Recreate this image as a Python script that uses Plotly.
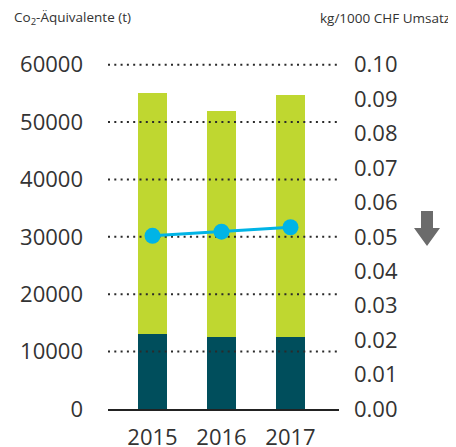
import plotly.graph_objects as go

# ---- data ----
years = [2015, 2016, 2017]
co2_base = [13000, 12500, 12500]          # dark teal part (t)
co2_rest = [42000, 39500, 42200]          # green part (t)
intensity = [0.0503, 0.0515, 0.0528]      # kg / 1000 CHF Umsatz
left_ticks = [0, 10000, 20000, 30000, 40000, 50000, 60000]
right_ticks = [0.00, 0.01, 0.02, 0.03, 0.04, 0.05, 0.06, 0.07, 0.08, 0.09, 0.10]
grid_values = [10000, 20000, 30000, 40000, 50000, 60000]

# ---- layout geometry (page body has an 8px margin) ----
OFF = 8
W, H = 456 - OFF, 447 - OFF
ML, MR, MT, MB = 108 - OFF, 117, 59 - OFF, 38
PW, PH = W - ML - MR, H - MT - MB
Y_MAX = 61000
Y2_MAX = 0.1 * Y_MAX / 60000
X_RANGE = [2014.355, 2017.703]

FONT = "Open Sans"
TXT = "#333333"
GREEN = "#BFD730"
TEAL = "#004E5C"
BLUE = "#00B4E6"

fig = go.Figure()

fig.add_trace(go.Bar(x=years, y=co2_base, marker=dict(color=TEAL, line=dict(width=0)),
                     width=0.42, hoverinfo="skip", showlegend=False))
fig.add_trace(go.Bar(x=years, y=co2_rest, marker=dict(color=GREEN, line=dict(width=0)),
                     width=0.42, hoverinfo="skip", showlegend=False))

# dotted gridlines drawn above the bars
gx, gy = [], []
for v in grid_values:
    gx += [X_RANGE[0], X_RANGE[1], None]
    gy += [v, v, None]
fig.add_trace(go.Scatter(x=gx, y=gy, mode="lines",
                         line=dict(color="#2a2a2a", width=2, dash="2px,4.3px"),
                         hoverinfo="skip", showlegend=False))

fig.add_trace(go.Scatter(x=years, y=intensity, yaxis="y2", mode="lines+markers",
                         line=dict(color=BLUE, width=3),
                         marker=dict(color=BLUE, size=16),
                         cliponaxis=False, hoverinfo="skip", showlegend=False))

def px_to_paper_x(px):
    return (px - OFF - ML) / PW

def px_to_paper_y(py):
    return (H - MB - (py - OFF)) / PH

# down arrow (screen pixel coordinates)
arrow_pts = [(421, 211), (433, 211), (433, 228), (440, 228), (427, 246), (414, 228), (421, 228)]
path = "M " + " L ".join(f"{px_to_paper_x(x):.4f},{px_to_paper_y(y):.4f}" for x, y in arrow_pts) + " Z"
fig.add_shape(type="path", path=path, xref="paper", yref="paper",
              fillcolor="#6b6b6b", line=dict(width=0))

fig.add_annotation(text="Co<sub>2</sub>-Äquivalente (t)", xref="paper", yref="paper",
                   x=px_to_paper_x(12), y=px_to_paper_y(18), xanchor="left", yanchor="middle",
                   showarrow=False, font=dict(family=FONT, size=13.5, color=TXT))
fig.add_annotation(text="kg/1000 CHF Umsatz", xref="paper", yref="paper",
                   x=px_to_paper_x(452), y=px_to_paper_y(18), xanchor="right", yanchor="middle",
                   showarrow=False, font=dict(family=FONT, size=13.5, color=TXT))

fig.update_layout(
    template="none",
    width=W, height=H,
    margin=dict(l=ML, r=MR, t=MT, b=MB, pad=0, autoexpand=False),
    paper_bgcolor="white", plot_bgcolor="white",
    barmode="stack", bargap=0,
    font=dict(family=FONT, size=22, color=TXT),
    xaxis=dict(range=X_RANGE, tickvals=years, ticktext=[str(y) for y in years],
               showgrid=False, zeroline=False, showline=True, linecolor="#222222",
               linewidth=2, ticks="", ticklabelstandoff=8, automargin=False, fixedrange=True),
    yaxis=dict(range=[0, Y_MAX], tickvals=left_ticks, tickformat="d",
               showgrid=False, zeroline=False, showline=False, ticks="",
               ticklabelstandoff=24, automargin=False, fixedrange=True),
    yaxis2=dict(range=[0, Y2_MAX], tickvals=right_ticks, tickformat=".2f",
                overlaying="y", side="right", showgrid=False, zeroline=False,
                showline=False, ticks="", ticklabelstandoff=14, automargin=False,
                fixedrange=True),
)

fig.write_html("out.html")
